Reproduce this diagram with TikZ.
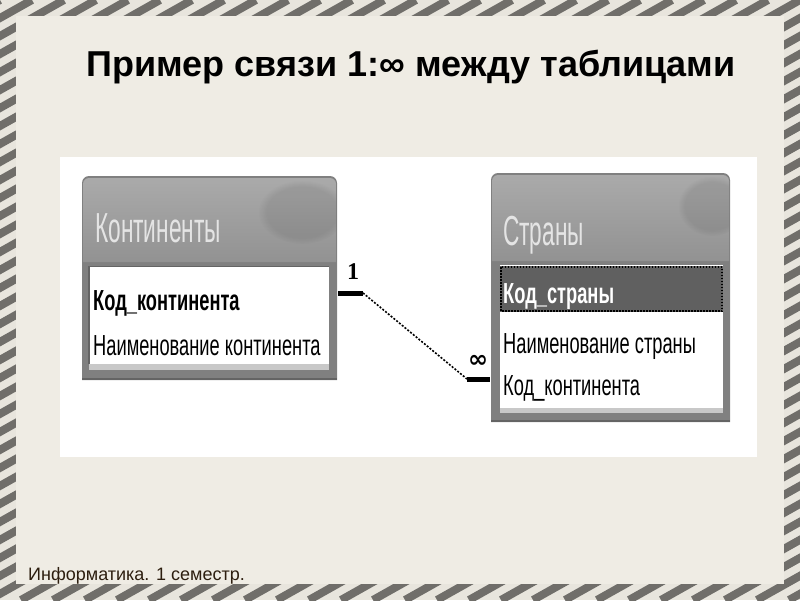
\documentclass[tikz,border=0pt]{standalone}
\usepackage{fontspec}
\usetikzlibrary{fadings}
\setmainfont{Liberation Sans}
\newfontfamily\titlefont{Liberation Sans}
\newfontfamily\rowfont[FakeStretch=0.63]{Liberation Sans}
\newfontfamily\hdrfont[FakeStretch=0.54]{Liberation Sans}
\newfontfamily\cardfont{Liberation Serif}
\newfontfamily\symfont{DejaVu Sans}
\definecolor{bgbeige}{RGB}{239,236,228}
\definecolor{stripelight}{RGB}{232,229,221}
\definecolor{stripegray}{RGB}{112,110,106}
\definecolor{framegray}{RGB}{128,128,128}
\definecolor{framedark}{RGB}{100,100,100}
\definecolor{framelight}{RGB}{200,200,200}
\definecolor{hdrtop}{RGB}{170,170,170}
\definecolor{hdrbot}{RGB}{146,146,146}
\definecolor{hdrtext}{RGB}{228,228,228}
\definecolor{rowsel}{RGB}{96,96,96}
\definecolor{footbrown}{RGB}{45,30,15}
\tikzset{
  rowtext/.style={anchor=base west, inner sep=0, font=\rowfont\fontsize{29}{30}\selectfont},
  rowbold/.style={rowtext, font=\rowfont\bfseries\fontsize{29}{30}\selectfont},
  hdrtitle/.style={anchor=base west, inner sep=0, text=hdrtext, font=\hdrfont\fontsize{42}{44}\selectfont},
  cardlabel/.style={inner sep=0, font=\cardfont\bfseries\fontsize{24}{26}\selectfont},
  symlabel/.style={inner sep=0, font=\symfont\bfseries\fontsize{24}{26}\selectfont},
  thickbar/.style={line width=5pt, black},
  relline/.style={line width=1.6pt, black, dash pattern=on 2pt off 1.6pt},
  smudge/.style={fill=black, opacity=0.08, path fading=circle with fuzzy edge 20 percent}
}
\begin{document}
\begin{tikzpicture}[x=1pt,y=-1pt]
\useasboundingbox (0,0) rectangle (800,600);
% striped border
\begin{scope}
  \clip (0,0) rectangle (800,600);
  \fill[stripelight] (0,0) rectangle (800,600);
  \foreach \n in {0,...,60} {
    \draw[stripegray, line width=8pt] ({32*\n},0) -- ({32*\n-1067},600);
  }
\end{scope}
\fill[bgbeige] (16,16) rectangle (784,584);
% title and footer
\node[anchor=base, inner sep=0, font=\titlefont\bfseries\fontsize{36}{40}\selectfont] (title) at (411,76) {Пример связи 1:∞ между таблицами};
\node[anchor=base west, inner sep=0, text=footbrown, font=\fontsize{18}{20}\selectfont] (foot) at (28,580) {Информатика. 1 семестр.};
% white picture area
\fill[white] (60,157) rectangle (757,457);
% ---------- left table ----------
\fill[framegray] (82,380) {[rounded corners=7] -- (82,176) -- (337,176)} -- (337,380) -- cycle;
\shade[top color=hdrtop, bottom color=hdrbot] (83,262) {[rounded corners=6] -- (83,178) -- (336,178)} -- (336,262) -- cycle;
\begin{scope}
  \clip (83,180) rectangle (336,262);
  \path[smudge] (302,212) ellipse [x radius=44, y radius=32];
\end{scope}
\draw[framedark, line width=2pt] (82,379) -- (337,379);
\fill[framelight] (89,364) rectangle (329,370);
\fill[white] (89,266) rectangle (329,364);
\draw[framedark, line width=1.5pt] (89,364) -- (89,266.5) -- (329,266.5);
\node[hdrtitle] (conthdr) at (95,242) {Континенты};
\node[rowbold] (contkey) at (93,310) {Код\_континента};
\node[rowtext] (contname) at (93,355) {Наименование континента};
% ---------- right table ----------
\fill[framegray] (491,422) {[rounded corners=7] -- (491,173) -- (730,173)} -- (730,422) -- cycle;
\shade[top color=hdrtop, bottom color=hdrbot] (492,261) {[rounded corners=6] -- (492,175) -- (729,175)} -- (729,261) -- cycle;
\begin{scope}
  \clip (492,177) rectangle (729,261);
  \path[smudge] (712,206) ellipse [x radius=34, y radius=30];
\end{scope}
\draw[framedark, line width=2pt] (491,421) -- (730,421);
\fill[framelight] (500,408) rectangle (723,413);
\fill[white] (500,265) rectangle (723,408);
\fill[rowsel] (500,266) rectangle (723,312);
\draw[black, line width=1.3pt, dash pattern=on 1.5pt off 1.5pt] (501,267) rectangle (722,311);
\node[hdrtitle] (stranhdr) at (503,245) {Страны};
\node[rowbold, text=white] (stkey) at (503,303) {Код\_страны};
\node[rowtext] (stname) at (503,353) {Наименование страны};
\node[rowtext] (stfk) at (503,395) {Код\_континента};
% ---------- relationship ----------
\coordinate (relA) at (338,293);
\coordinate (relB) at (363,293);
\coordinate (relC) at (467,379);
\coordinate (relD) at (490,379);
\draw[thickbar] (relA) -- (relB);
\draw[relline] (relB) -- (relC);
\draw[thickbar] (relC) -- (relD);
\node[cardlabel] (one) at (353,272) {1};
\node[symlabel] (many) at (478,361) {∞};
\end{tikzpicture}
\end{document}
